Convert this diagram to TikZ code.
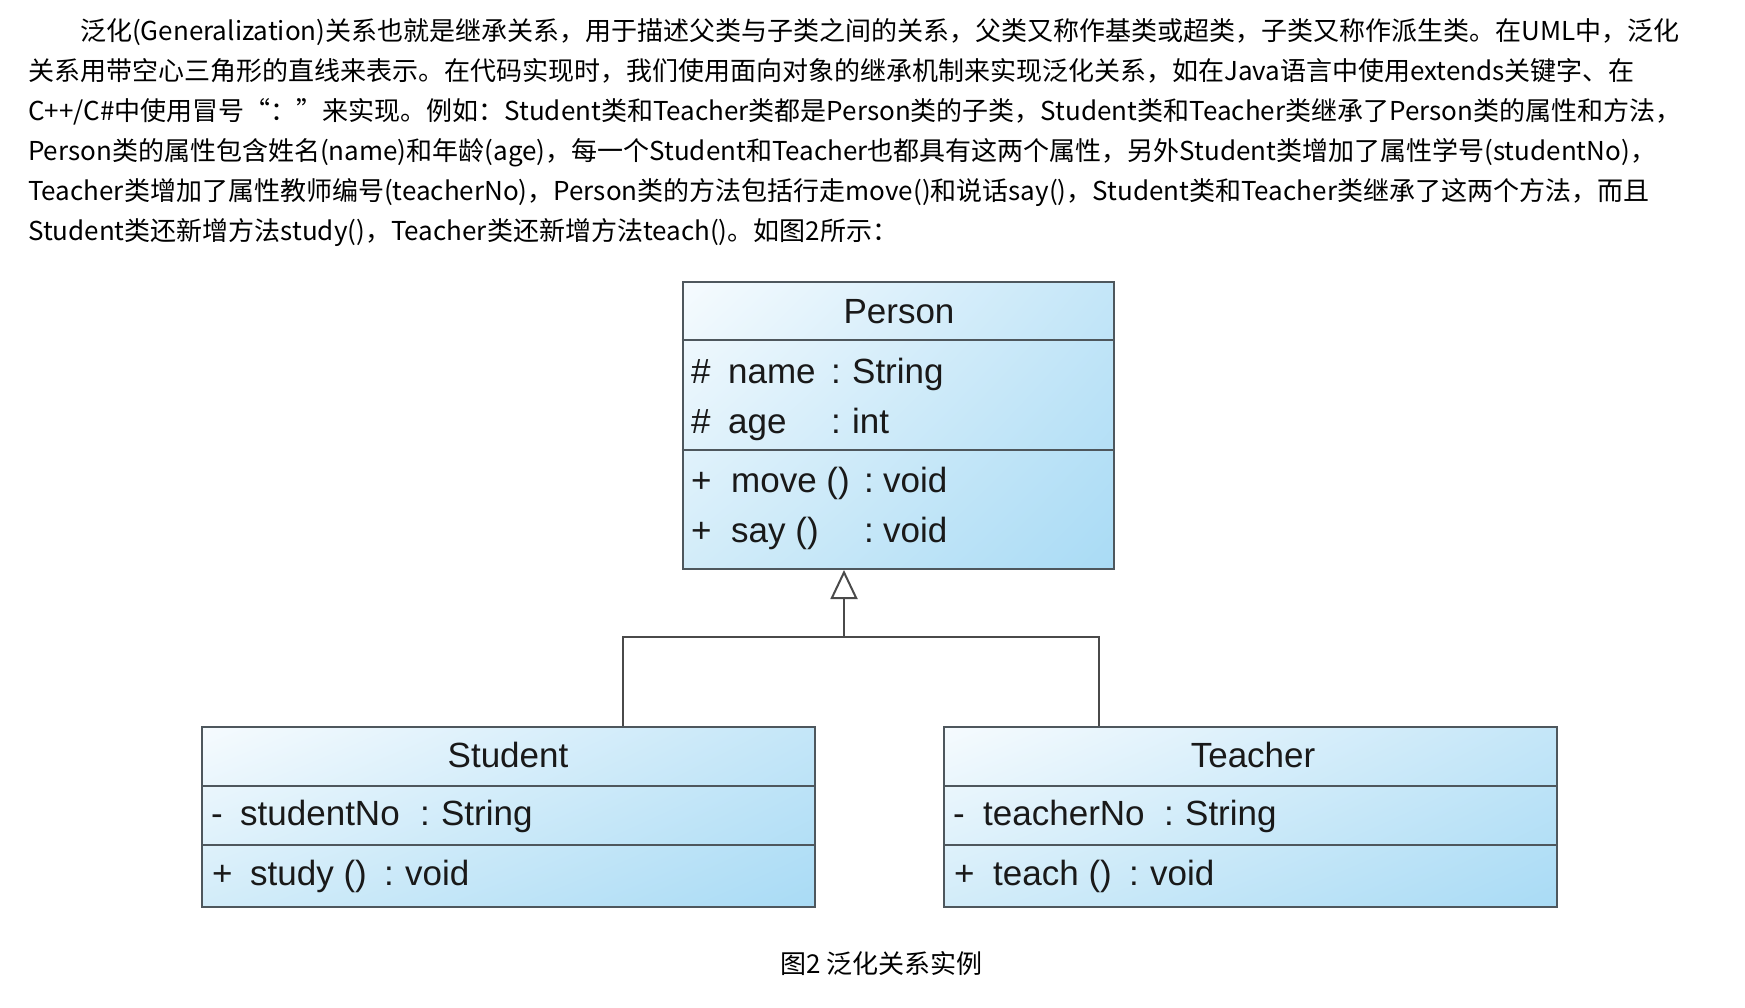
\documentclass[tikz,border=0pt]{standalone}
\usepackage{fontspec}
\usepackage{xcolor}
\usetikzlibrary{arrows.meta,shadings}
\newfontfamily\cjk{Noto Sans CJK SC}
\newfontfamily\umlfont{Liberation Sans}
\definecolor{boxline}{HTML}{4E575D}
\definecolor{linkline}{HTML}{4A4A4A}
\definecolor{shadeUL}{HTML}{F6FBFE}
\definecolor{shadeUR}{HTML}{C4E6F8}
\definecolor{shadeLL}{HTML}{D2ECF9}
\definecolor{shadeLR}{HTML}{A9DBF5}
\tikzset{
  classbox/.style={draw=boxline, line width=2pt, shade, upper left=shadeUL, upper right=shadeUR,
    lower left=shadeLL, lower right=shadeLR, inner sep=0pt},
  compline/.style={draw=boxline, line width=2pt},
  inherit/.style={draw=linkline, line width=2pt},
  para/.style={anchor=base west, inner sep=0pt, font=\cjk\fontsize{26}{30}\selectfont},
  uml/.style={anchor=base west, inner sep=0pt, text=black!90, font=\umlfont\fontsize{35}{40}\selectfont},
}
% sign, name and colon boxes (widths in pt), then the type
\newcommand\member[6]{\makebox[#1pt][l]{#4}\makebox[#2pt][l]{#5}\makebox[#3pt][l]{:}#6}

\begin{document}
\begin{tikzpicture}[x=1pt, y=-1pt]
\useasboundingbox (0,0) rectangle (1745,1007);

% text above the figure
\node[para] (line1) at (80,40) {泛化(Generalization)关系也就是继承关系，用于描述父类与子类之间的关系，父类又称作基类或超类，子类又称作派生类。在UML中，泛化};
\node[para] (line2) at (28,80) {关系用带空心三角形的直线来表示。在代码实现时，我们使用面向对象的继承机制来实现泛化关系，如在Java语言中使用extends关键字、在};
\node[para] (line3) at (28,120) {C++/C\#中使用冒号“：”来实现。例如：Student类和Teacher类都是Person类的子类，Student类和Teacher类继承了Person类的属性和方法，};
\node[para] (line4) at (28,160) {Person类的属性包含姓名(name)和年龄(age)，每一个Student和Teacher也都具有这两个属性，另外Student类增加了属性学号(studentNo)，};
\node[para] (line5) at (28,200) {Teacher类增加了属性教师编号(teacherNo)，Person类的方法包括行走move()和说话say()，Student类和Teacher类继承了这两个方法，而且};
\node[para] (line6) at (28,240) {Student类还新增方法study()，Teacher类还新增方法teach()。如图2所示：};

% Person
\node[classbox, minimum width=431pt, minimum height=287pt] (person) at (898,425.5) {};
\draw[compline] ([yshift=-59pt]person.north west) -- ([yshift=-59pt]person.north east);
\draw[compline] ([yshift=-169pt]person.north west) -- ([yshift=-169pt]person.north east);
\node[uml, anchor=base] (ptitle) at (899,323) {Person};
\node[uml] (pname) at (691,383) {\member{37}{103}{21}{\#}{name}{String}};
\node[uml] (page) at (691,433) {\member{37}{103}{21}{\#}{age}{int}};
\node[uml] (pmove) at (691,492) {\member{40}{133}{19}{+}{move ()}{void}};
\node[uml] (psay) at (691,542) {\member{40}{133}{19}{+}{say ()}{void}};

% Student
\node[classbox, minimum width=613pt, minimum height=180pt] (student) at (508.5,817) {};
\draw[compline] ([yshift=-60pt]student.north west) -- ([yshift=-60pt]student.north east);
\draw[compline] ([yshift=-119pt]student.north west) -- ([yshift=-119pt]student.north east);
\node[uml, anchor=base] (stitle) at (508,767) {Student};
\node[uml] (sno) at (211,825) {\member{29}{180}{21}{-}{studentNo}{String}};
\node[uml] (sstudy) at (212,885) {\member{38}{134}{21}{+}{study ()}{void}};

% Teacher
\node[classbox, minimum width=613pt, minimum height=180pt] (teacher) at (1250.5,817) {};
\draw[compline] ([yshift=-60pt]teacher.north west) -- ([yshift=-60pt]teacher.north east);
\draw[compline] ([yshift=-119pt]teacher.north west) -- ([yshift=-119pt]teacher.north east);
\node[uml, anchor=base] (ttitle) at (1253,767) {Teacher};
\node[uml] (tno) at (953,825) {\member{30}{181}{21}{-}{teacherNo}{String}};
\node[uml] (tteach) at (954,885) {\member{39}{136}{21}{+}{teach ()}{void}};

% generalization
\coordinate (joint) at (844,637);
\draw[inherit] ([xshift=114.5pt]student.north) |- (joint) -| ([xshift=-151.5pt]teacher.north);
\draw[inherit, -{Triangle[open, width=27pt, length=29pt]}] (joint) -- ([xshift=-54pt]person.south);

% caption
\node[para] (caption) at (780,973) {图2 泛化关系实例};
\end{tikzpicture}
\end{document}
